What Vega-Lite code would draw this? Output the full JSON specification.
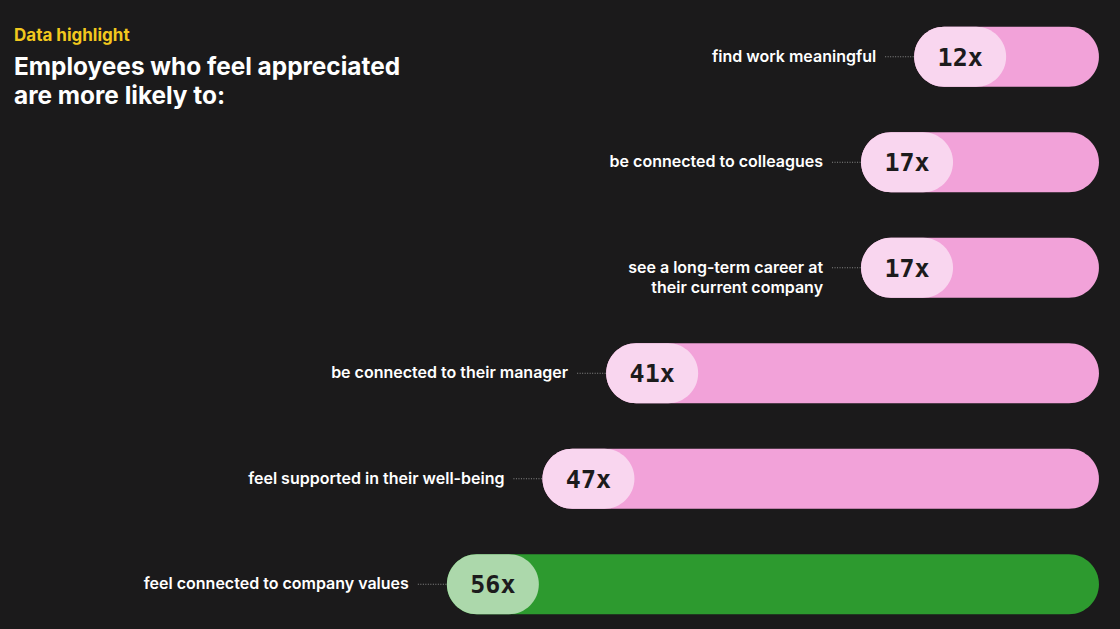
{
  "$schema": "https://vega.github.io/schema/vega-lite/v6.json",
  "width": 1120,
  "height": 629,
  "autosize": {"type": "none"},
  "padding": 0,
  "background": "#1b1a1b",
  "config": {"view": {"stroke": null}},
  "title": {
    "text": "Data highlight",
    "subtitle": ["Employees who feel appreciated", "are more likely to:"],
    "anchor": "start",
    "frame": "group",
    "orient": "top",
    "offset": -109,
    "dx": 14,
    "color": "#f2c81e",
    "font": "Inter",
    "fontSize": 17,
    "fontWeight": 700,
    "subtitleColor": "#ffffff",
    "subtitleFont": "Inter",
    "subtitleFontSize": 24.4,
    "subtitleFontWeight": 700,
    "subtitleLineHeight": 29,
    "subtitlePadding": 11
  },
  "data": {
    "values": [
      {"label": "find work meaningful", "lines": ["find work meaningful"], "value": 12, "display": "12x", "group": "other"},
      {"label": "be connected to colleagues", "lines": ["be connected to colleagues"], "value": 17, "display": "17x", "group": "other"},
      {"label": "see a long-term career at their current company", "lines": ["see a long-term career at", "their current company"], "value": 17, "display": "17x", "group": "other"},
      {"label": "be connected to their manager", "lines": ["be connected to their manager"], "value": 41, "display": "41x", "group": "other"},
      {"label": "feel supported in their well-being", "lines": ["feel supported in their well-being"], "value": 47, "display": "47x", "group": "other"},
      {"label": "feel connected to company values", "lines": ["feel connected to company values"], "value": 56, "display": "56x", "group": "top"}
    ]
  },
  "encoding": {
    "y": {"field": "label", "type": "nominal", "sort": null, "axis": null,
          "scale": {"range": [4, 637], "paddingInner": 0, "paddingOuter": 0}}
  },
  "layer": [
    {
      "mark": {"type": "bar", "height": 60, "cornerRadius": 30},
      "encoding": {
        "x": {"field": "value", "type": "quantitative", "axis": null,
              "scale": {"domain": [0, 98], "range": [1041.6, 0.8], "zero": false, "nice": false}},
        "x2": {"datum": -5.4},
        "color": {"field": "group", "type": "nominal", "legend": null,
                  "scale": {"domain": ["other", "top"], "range": ["#f2a2d9", "#2d9a2f"]}}
      }
    },
    {
      "mark": {"type": "bar", "height": 60, "cornerRadius": 30, "x2Offset": 92},
      "encoding": {
        "x": {"field": "value", "type": "quantitative"},
        "x2": {"field": "value"},
        "fill": {"field": "group", "type": "nominal", "legend": null,
                 "scale": {"domain": ["other", "top"], "range": ["#f9d6ef", "#acd8ab"]}}
      }
    },
    {
      "mark": {"type": "text", "align": "center", "baseline": "middle", "xOffset": 46, "dy": 1,
               "font": "DejaVu Sans Mono", "fontSize": 25, "fontWeight": "bold", "color": "#1c1b1c"},
      "encoding": {
        "x": {"field": "value", "type": "quantitative"},
        "text": {"field": "display"}
      }
    },
    {
      "mark": {"type": "text", "align": "right", "baseline": "middle", "xOffset": -38,
               "font": "Inter", "fontSize": 16, "fontWeight": 600, "color": "#ffffff", "lineHeight": 20},
      "encoding": {
        "x": {"field": "value", "type": "quantitative"},
        "text": {"field": "lines"}
      }
    },
    {
      "mark": {"type": "rule", "xOffset": -29, "color": "#8a8a8a", "strokeWidth": 1, "strokeDash": [1, 1.5]},
      "encoding": {
        "x": {"field": "value", "type": "quantitative"},
        "x2": {"field": "value"}
      }
    }
  ]
}
